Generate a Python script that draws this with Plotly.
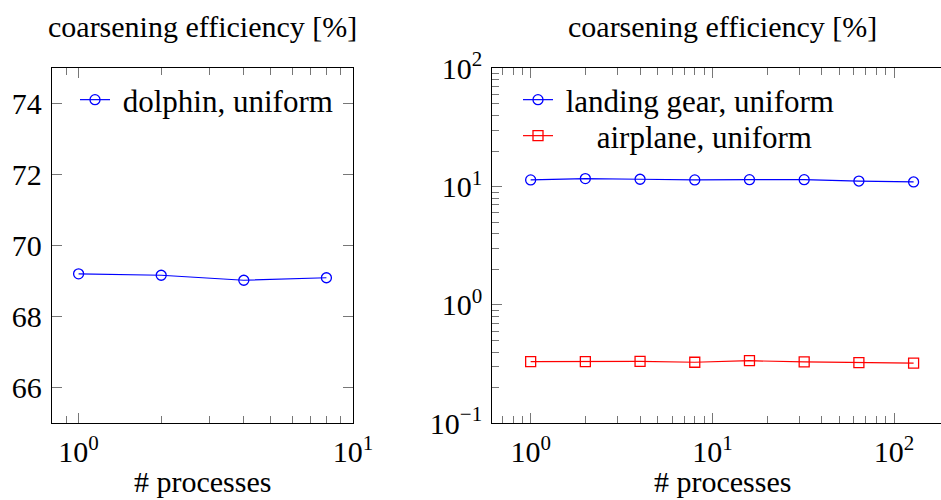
import plotly.graph_objects as go

# ---- data ----
procs_left = [1, 2, 4, 8]
dolphin_uniform = [69.21, 69.17, 69.03, 69.10]

procs_right = [1, 2, 4, 8, 16, 32, 64, 128]
landing_gear_uniform = [11.4, 11.7, 11.55, 11.4, 11.45, 11.45, 11.15, 10.95]
airplane_uniform = [0.332, 0.332, 0.334, 0.328, 0.338, 0.330, 0.326, 0.322]

left_y_ticks = [66, 68, 70, 72, 74]
left_x_tickvals = [1, 10]
left_x_ticktext = ["10<sup>0</sup>", "10<sup>1</sup>"]
right_x_tickvals = [1, 10, 100]
right_x_ticktext = ["10<sup>0</sup>", "10<sup>1</sup>", "10<sup>2</sup>"]
right_y_tickvals = [0.1, 1, 10, 100]
right_y_ticktext = ["10<sup>\u22121</sup>", "10<sup>0</sup>", "10<sup>1</sup>", "10<sup>2</sup>"]

title_text = "coarsening efficiency [%]"
xlabel_text = "# processes"

FONT = "Liberation Serif"
FS = 30
W, H = 941, 500

# layout geometry (pixels)
L_x0, L_x1 = 52, 353
R_x0, R_x1 = 492.3, 941
Y_top, Y_bot = 68.3, 423.3

def minor_log(e0, e1):
    return [m * 10 ** e for e in range(e0, e1 + 1) for m in range(2, 10)]

minor_left_x = [0.8, 0.9] + minor_log(0, 0)
minor_right_x = [0.7, 0.8, 0.9] + minor_log(0, 2)
minor_right_y = minor_log(-1, 1)

fig = go.Figure()

fig.add_trace(go.Scatter(
    x=procs_left, y=dolphin_uniform, name="\u00a0dolphin, uniform",
    mode="lines+markers", xaxis="x", yaxis="y", legend="legend",
    line=dict(color="rgb(0,0,255)", width=1.2),
    marker=dict(symbol="circle-open", size=10, color="rgb(0,0,255)", line=dict(width=1.3)),
))
fig.add_trace(go.Scatter(
    x=procs_right, y=landing_gear_uniform, name="\u00a0landing gear, uniform",
    mode="lines+markers", xaxis="x2", yaxis="y2", legend="legend2",
    line=dict(color="rgb(0,0,255)", width=1.2),
    marker=dict(symbol="circle-open", size=10, color="rgb(0,0,255)", line=dict(width=1.3)),
))
fig.add_trace(go.Scatter(
    x=procs_right, y=airplane_uniform, name="\u00a0\u00a0\u00a0\u00a0\u00a0airplane, uniform",
    mode="lines+markers", xaxis="x2", yaxis="y2", legend="legend3",
    line=dict(color="rgb(255,0,0)", width=1.2),
    marker=dict(symbol="square-open", size=10, color="rgb(255,0,0)", line=dict(width=1.3)),
))

ydom = [1 - Y_bot / H, 1 - Y_top / H]
axis_common = dict(
    showgrid=False, zeroline=False, showline=True, linecolor="black", linewidth=1.3,
    ticks="inside", tickcolor="#777", tickwidth=1, ticklen=10,
    tickfont=dict(family=FONT, size=FS, color="black"), automargin=False,
)
minor_common = dict(ticks="inside", ticklen=7, tickcolor="#777", tickwidth=1, showgrid=False)
legend_common = dict(xanchor="left", yanchor="top", bgcolor="rgba(0,0,0,0)", borderwidth=0,
                     font=dict(family=FONT, size=31, color="black"))

fig.update_layout(
    width=W, height=H,
    margin=dict(l=0, r=0, t=0, b=0),
    paper_bgcolor="white", plot_bgcolor="white",
    font=dict(family=FONT, size=FS, color="black"),
    xaxis=dict(axis_common, type="log", domain=[L_x0 / W, L_x1 / W], anchor="y",
               range=[-0.0969, 1.0], mirror="allticks",
               tickmode="array", tickvals=left_x_tickvals, ticktext=left_x_ticktext,
               minor=dict(minor_common, tickmode="array", tickvals=minor_left_x),
               ticklabelstandoff=2),
    yaxis=dict(axis_common, domain=ydom, anchor="x", range=[65, 75], mirror="allticks",
               tickmode="array", tickvals=left_y_ticks, ticklabelstandoff=3),
    xaxis2=dict(axis_common, type="log", domain=[R_x0 / W, R_x1 / W], anchor="y2",
                range=[-0.211, 2.258], mirror="allticks",
                tickmode="array", tickvals=right_x_tickvals, ticktext=right_x_ticktext,
                minor=dict(minor_common, tickmode="array", tickvals=minor_right_x),
                ticklabelstandoff=2),
    yaxis2=dict(axis_common, type="log", domain=ydom, anchor="x2", range=[-1, 2], mirror=False,
                tickmode="array", tickvals=right_y_tickvals, ticktext=right_y_ticktext,
                minor=dict(minor_common, tickmode="array", tickvals=minor_right_y),
                ticklabelstandoff=3),
    legend=dict(legend_common, x=75 / W, y=1 - 73 / H),
    legend2=dict(legend_common, x=518 / W, y=1 - 73 / H),
    legend3=dict(legend_common, x=518 / W, y=1 - 109 / H),
    showlegend=True,
)

for cx in [(L_x0 + L_x1) / 2, (R_x0 + 952) / 2]:
    fig.add_annotation(text=title_text, x=cx / W, y=1 - 26 / H, xref="paper", yref="paper",
                       xanchor="center", yanchor="middle", showarrow=False,
                       font=dict(family=FONT, size=FS, color="black"))
    fig.add_annotation(text=xlabel_text, x=cx / W, y=0, xref="paper", yref="paper",
                       xanchor="center", yanchor="bottom", showarrow=False,
                       font=dict(family=FONT, size=FS, color="black"))

fig.write_html("out.html")
